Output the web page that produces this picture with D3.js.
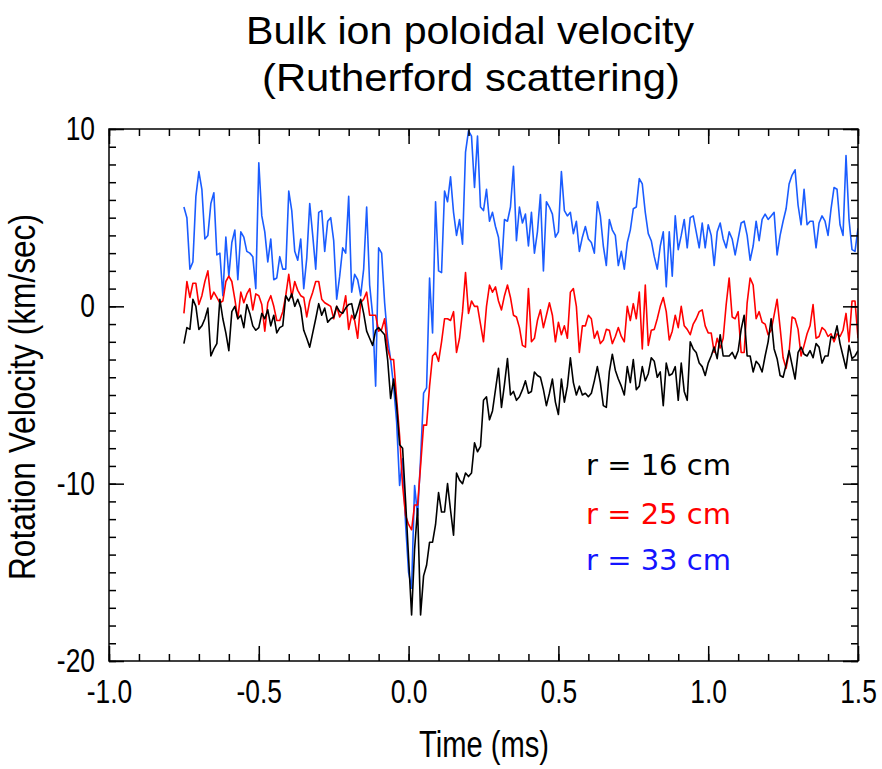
<!DOCTYPE html>
<html lang="en">
<head>
<meta charset="utf-8">
<title>Bulk ion poloidal velocity</title>
<script src="https://d3js.org/d3.v7.min.js"></script>
<style>
  body { margin: 0; background: #fff; }
  svg text { font-family: "Liberation Sans", Arial, sans-serif; }
  .legend text { font-family: "DejaVu Sans", "Noto Sans", sans-serif; }
</style>
</head>
<body>
<script>
// time grid of the samples (ms)
var tStart = -0.75, tStep = 0.01;

// r = 33 cm (blue)
var v33 = [
  5.6, 5.0, 2.1, 2.5, 6.2, 7.6, 6.6, 3.8, 4.0, 5.8,
  6.4, 2.9, 3.0, 0.6, 3.9, 1.7, 3.6, 4.3, 1.5, 4.2,
  3.9, 3.1, 3.0, 2.8, 1.0, 8.1, 5.1, 4.2, 2.5, 3.8,
  1.5, 1.6, 2.8, 2.1, 2.1, 6.5, 5.4, 3.1, 2.6, 3.8,
  1.0, 2.7, 5.8, 4.0, 2.1, 5.3,
  5.4, 3.1, 4.8, 5.0, 3.7, 0.4, 1.7, 3.3, 3.0, 6.2,
  0.8, 1.8, 1.5, 0.6, 2.1, 5.6, 1.2, -0.5, -4.5, 3.3,
  3.0, 0.2, -1.8, -3.0, -4.5, -6.5, -10.1, -8.6, -12.3, -15.0,
  -15.9, -10.1, -11.8, -8.6, -4.9, -4.6, 1.6, -1.5, 5.9, 2.0,
  1.9, 6.5,
  5.9, 7.3, 5.3, 4.0, 4.9, 3.5, 8.7, 9.9, 9.6, 6.7,
  9.6, 5.6, 5.4, 6.6, 4.8, 5.3, 4.5, 3.9, 2.1, 4.9,
  4.8, 5.6, 7.9, 3.7, 5.6, 4.7, 5.2, 3.4, 5.3, 3.0,
  4.2, 6.3, 2.0, 5.9, 5.6, 5.2, 3.9, 4.2, 7.6, 5.4,
  5.1, 5.3, 4.1, 4.8, 3.1,
  3.9, 4.5, 3.8, 3.6, 3.0, 5.9, 5.1, 3.4, 2.3, 4.9,
  4.3, 4.0, 2.3, 3.1, 2.1, 3.6, 4.3, 5.5, 5.6, 7.2,
  6.9, 5.3, 4.1, 3.7, 2.8, 2.1, 3.4, 4.2, 1.1, 4.2,
  1.7, 5.1, 3.2, 4.0, 4.9, 3.3, 5.0, 5.1, 4.2, 3.3,
  4.7, 3.3, 4.6, 4.0, 2.3,
  4.2, 4.7, 3.8, 3.3, 4.2, 3.8, 2.9, 3.8, 4.7, 4.8,
  4.0, 2.6, 3.4, 4.8, 3.7, 4.9, 5.2, 4.9, 5.1, 5.3,
  2.9, 4.0, 4.8, 5.5, 6.9, 7.4, 7.7, 5.7, 4.6, 6.6,
  4.6, 4.8, 4.8, 3.3, 4.7, 5.1, 4.8, 4.0, 5.5, 6.7,
  6.6, 4.6, 4.0, 8.5, 4.9, 3.2, 3.1, 4.4
];

// r = 25 cm (red)
var v25 = [
  -0.4, 1.4, 0.5, 1.3, 1.3, 0.1, 0.6, 1.4, 2.0, 0.4,
  0.8, 0.5, 0.2, 0.3, 1.4, 1.7, 1.4, 0.4, -0.7, 0.8,
  0.2, 0.7, 1.0, -0.2, 0.7, 0.6, 0.1, -1.4, 0.2, 0.6,
  0.0, -0.8, -0.8, -0.3, 0.6, 1.8, 0.5, 1.4, 0.9, 0.6,
  0.5, -0.6, 0.3, 0.8, 1.4, 1.4,
  0.4, 0.2, 0.1, 0.0, -0.7, 0.0, -0.6, -0.3, 0.6, -1.3,
  -0.5, -0.8, -1.8, 0.2, 0.4, 0.8, -0.5, -0.5, -0.5, -1.4,
  -1.3, -0.7, -2.4, -3.0, -3.0, -5.2, -7.3, -10.1, -11.8, -12.3,
  -12.6, -11.2, -11.2, -9.0, -6.7, -6.7, -4.5, -2.8, -2.6, -3.1,
  -2.0, -0.7,
  -0.7, -0.8, -0.3, -2.6, -1.8, -0.3, 1.9, -0.4, 0.3, 0.0,
  0.0, -1.0, -2.0, 0.0, 1.2, 0.8, 1.1, 0.3, -0.2, 0.6,
  1.2, 0.5, -0.5, -0.6, -1.2, -2.2, -2.3, 1.0, -2.0, -1.8,
  -0.8, -0.2, -1.2, -0.5, 0.2, -0.5, -2.0, -0.9, -1.6, -1.1,
  -1.8, 0.8, 1.0, 0.0, -2.6,
  -1.1, -1.1, -0.5, -0.7, -1.8, -1.4, -2.1, -1.9, -1.3, -1.35,
  -2.1, -1.7, -1.2, -1.7, -2.0, 0.0, -0.8, 0.15, -0.7, 0.8,
  -2.4, 1.2, -2.2, -1.35, -1.3, -0.7, 0.0, 0.5, -0.3, -1.9,
  -1.4, -0.5, -1.2, 0.0, -1.1, -1.3, -1.6, -1.0, -0.7, -0.3,
  -0.2, -1.1, -1.5, -1.5, -2.6,
  -1.8, -2.35, -1.8, 0.1, 1.6, -0.6, -0.7, -0.3, -2.6, -2.6,
  0.2, 1.6, 1.2, -0.7, -0.3, -0.9, -1.0, -1.6, -1.35, -0.5,
  0.4, -1.2, -2.9, -3.5, -2.6, -0.6, -0.7, -1.3, -2.8, -2.2,
  -1.55, -1.1, 0.1, -1.8, -1.7, -1.2, -1.35, -1.7, -1.55, -2.0,
  -1.55, -1.7, -1.35, -0.4, -2.0, 0.3, 0.3, -1.8
];

// r = 16 cm (black)
var v16 = [
  -2.1, -1.2, -1.3, 0.4, 0.0, -1.3, -1.1, -0.7, -0.1, -2.8,
  -2.4, -2.1, 0.4, -0.7, -1.5, -2.5, -0.3, 0.0, -0.7, -0.5,
  -1.2, 0.1, -0.4, -1.1, -1.35, -1.2, -0.4, -0.7, -0.2, -1.1,
  -0.5, -1.5, -1.2, -1.1, 0.6, 0.3, 0.7, 0.0, 0.4, -0.1,
  -1.35, -1.8, -2.3, -1.5, -0.7, 0.15,
  -0.5, -0.1, -0.9, -0.7, -0.6, 0.0, -0.3, -0.4, -0.1, 0.1,
  0.15, -0.7, -0.2, 0.4, -0.4, -1.4, -1.8, -2.2, -1.35, -1.2,
  -1.4, -1.6, -3.0, -5.2, -4.1, -5.6, -7.8, -8.0, -11.0, -14.2,
  -17.4, -13.7, -11.4, -17.4, -15.2, -14.6, -13.3, -13.3, -12.3, -10.5,
  -11.6, -11.6,
  -10.0, -11.5, -12.9, -9.4, -9.8, -10.0, -9.4, -9.6, -9.4, -7.7,
  -8.2, -7.9, -5.3, -5.1, -6.4, -5.9, -4.7, -3.5, -5.7, -4.4,
  -2.95, -5.0, -4.8, -5.3, -5.1, -4.7, -4.2, -4.9, -4.8, -3.7,
  -3.9, -4.0, -4.7, -5.6, -4.9,
  -4.1, -5.4, -6.1, -4.1, -5.4, -4.5, -2.9, -4.3, -5.0, -4.5,
  -5.0, -4.9, -5.1, -4.9, -4.2, -3.4, -4.3, -5.6, -5.7, -3.7,
  -2.7, -3.6, -4.1, -4.5, -5.0, -3.4, -4.3, -3.0, -4.7, -4.5,
  -3.4, -4.2, -3.8, -2.9, -3.1, -4.0, -3.7, -5.6, -3.2, -3.9,
  -3.8, -3.4, -5.3, -3.2, -4.8, -5.3, -2.0, -2.4, -2.6, -3.2,
  -3.4, -3.9, -3.2, -2.8, -2.3,
  -2.95, -1.6, -2.8, -2.8, -2.8, -2.6, -2.95, -2.5, -1.3, -0.5,
  -2.8, -2.8, -3.7, -3.1, -3.3, -3.7, -2.8, -2.0, -0.7, -2.4,
  -2.95, -3.9, -4.0, -3.3, -2.5, -3.3, -4.1, -2.6, -2.3, -2.7,
  -2.8, -2.5, -2.9, -2.1, -2.3, -3.2, -2.8, -2.8, -1.7, -1.8,
  -1.1, -2.1, -2.8, -3.5, -2.2, -2.95, -2.8, -2.5
];

// ticks and labels
var xMajor = [-1.0, -0.5, 0.0, 0.5, 1.0, 1.5];
var yMajor = [-20, -10, 0, 10];
var seriesNames = ["r = 16 cm", "r = 25 cm", "r = 33 cm"];
var lineColors = ["#000000", "#ff0000", "#1a5cff"];
var legendColors = ["#000000", "#ff0000", "#1414ff"];

var w = 882, h = 769;
var padL = 109, padR = 858, padT = 129, padB = 661;

var svg = d3.select("body").append("svg")
  .attr("width", w).attr("height", h);

var x = d3.scaleLinear().domain([-1, 1.5]).range([padL, padR]);
var y = d3.scaleLinear().domain([-20, 10]).range([padB, padT]);

var xMinor = d3.range(-1, 1.5001, 0.1).map(function(d) { return Math.round(d * 10) / 10; });
var yMinor = d3.range(-20, 11, 1);

// squeeze a text horizontally (the original uses a condensed face)
function narrow(sel, k) {
  sel.each(function() {
    var len = this.getComputedTextLength();
    this.setAttribute("textLength", len * k);
    this.setAttribute("lengthAdjust", "spacingAndGlyphs");
  });
}

// title
svg.append("text").attr("x", 470).attr("y", 44)
  .attr("text-anchor", "middle")
  .style("font-size", "39px").attr("textLength", 448).attr("lengthAdjust", "spacingAndGlyphs")
  .text("Bulk ion poloidal velocity");
svg.append("text").attr("x", 471).attr("y", 91)
  .attr("text-anchor", "middle")
  .style("font-size", "39px").attr("textLength", 418).attr("lengthAdjust", "spacingAndGlyphs")
  .text("(Rutherford scattering)");

// clip for data lines
svg.append("clipPath").attr("id", "plot-clip")
  .append("rect").attr("x", padL).attr("y", padT)
  .attr("width", padR - padL).attr("height", padB - padT);

var line = d3.line()
  .x(function(d, i) { return x(tStart + i * tStep); })
  .y(function(d) { return y(d); });

var lines = svg.append("g").attr("clip-path", "url(#plot-clip)");
[[v33, lineColors[2]], [v25, lineColors[1]], [v16, lineColors[0]]].forEach(function(s) {
  lines.append("path")
    .datum(s[0])
    .attr("d", line)
    .attr("fill", "none")
    .attr("stroke", s[1])
    .attr("stroke-width", 1.6)
    .attr("stroke-linejoin", "round");
});

// axes (ticks point inward)
function styleAxis(g) {
  g.select(".domain").remove();
  g.selectAll(".tick line").attr("stroke", "#000").attr("stroke-width", 1.5);
}
var fmtX = function(d) { return d.toFixed(1); };
var fmtY = function(d) { return String(d); };

svg.append("g").attr("transform", "translate(0," + padB + ")")
  .call(d3.axisBottom(x).tickValues(xMinor).tickSize(-7).tickFormat(""))
  .call(styleAxis);
svg.append("g").attr("transform", "translate(0," + padB + ")")
  .call(d3.axisBottom(x).tickValues(xMajor).tickSize(-15).tickPadding(19).tickFormat(fmtX))
  .call(styleAxis)
  .selectAll("text").style("font-size", "33px").attr("fill", "#000").call(narrow, 0.8);

svg.append("g").attr("transform", "translate(0," + padT + ")")
  .call(d3.axisTop(x).tickValues(xMinor).tickSize(-7).tickFormat(""))
  .call(styleAxis);
svg.append("g").attr("transform", "translate(0," + padT + ")")
  .call(d3.axisTop(x).tickValues(xMajor).tickSize(-15).tickFormat(""))
  .call(styleAxis);

svg.append("g").attr("transform", "translate(" + padL + ",0)")
  .call(d3.axisLeft(y).tickValues(yMinor).tickSize(-7).tickFormat(""))
  .call(styleAxis);
svg.append("g").attr("transform", "translate(" + padL + ",0)")
  .call(d3.axisLeft(y).tickValues(yMajor).tickSize(-15).tickPadding(14).tickFormat(fmtY))
  .call(styleAxis)
  .selectAll("text").style("font-size", "33px").attr("fill", "#000").call(narrow, 0.8);

svg.append("g").attr("transform", "translate(" + padR + ",0)")
  .call(d3.axisRight(y).tickValues(yMinor).tickSize(-7).tickFormat(""))
  .call(styleAxis);
svg.append("g").attr("transform", "translate(" + padR + ",0)")
  .call(d3.axisRight(y).tickValues(yMajor).tickSize(-15).tickFormat(""))
  .call(styleAxis);

// frame
svg.append("rect").attr("x", padL).attr("y", padT)
  .attr("width", padR - padL).attr("height", padB - padT)
  .attr("fill", "none").attr("stroke", "#000").attr("stroke-width", 1.5);

// axis titles
svg.append("text").attr("x", 484).attr("y", 757)
  .attr("text-anchor", "middle").style("font-size", "36px")
  .attr("textLength", 130).attr("lengthAdjust", "spacingAndGlyphs")
  .text("Time (ms)");
svg.append("text").attr("transform", "translate(35,397) rotate(-90)")
  .attr("text-anchor", "middle").style("font-size", "36px")
  .attr("textLength", 366).attr("lengthAdjust", "spacingAndGlyphs")
  .text("Rotation Velocity (km/sec)");

// legend
var legend = svg.append("g").attr("class", "legend");
seriesNames.forEach(function(name, i) {
  legend.append("text")
    .attr("x", 586).attr("y", [475, 524, 570][i])
    .style("font-size", "29px")
    .attr("fill", legendColors[i])
    .text(name);
});
</script>
</body>
</html>
